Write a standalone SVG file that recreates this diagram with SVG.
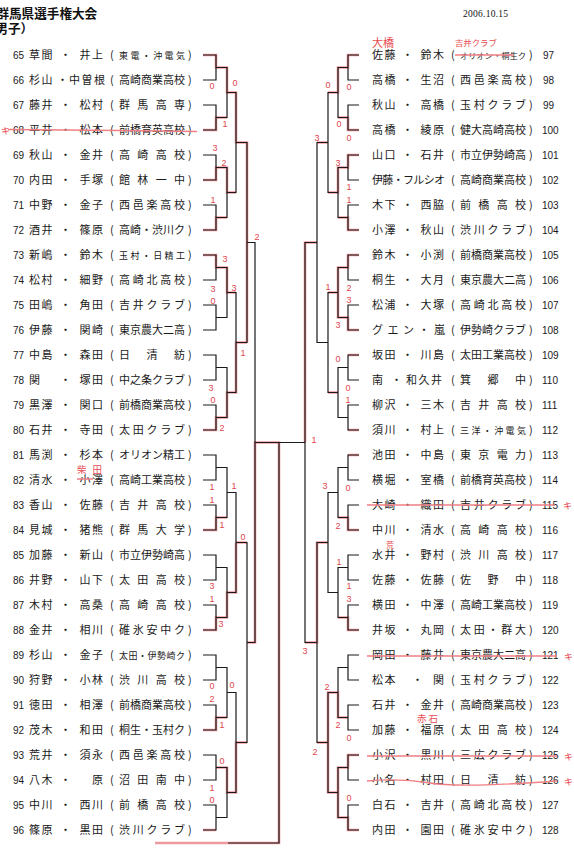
<svg xmlns="http://www.w3.org/2000/svg" width="574" height="859" viewBox="0 0 574 859">
<style>
.bg{fill:#fff}
.nm{font-family:"Noto Sans CJK JP","Noto Sans CJK SC",sans-serif;font-size:11px;fill:#1a1a1a;letter-spacing:1.5px}
.n{font-family:"Liberation Sans",sans-serif;font-size:10px;letter-spacing:0}
.af{font-family:"Noto Sans CJK JP","Noto Sans CJK SC",sans-serif;font-size:11px;fill:#1a1a1a}
.sm{font-size:9px}
.xs{font-size:8px}
.br{fill:none;stroke:#1a1a1a;stroke-width:1.2}
.rd{fill:none;stroke:#e0454d;stroke-width:2.6;stroke-opacity:.55}
.sc{font-family:"Liberation Sans",sans-serif;font-size:9px;fill:#e0454d;text-anchor:middle}
.st{stroke:#f07f84;stroke-width:1.4;fill:none}
.an{font-family:"Noto Sans CJK JP","Noto Sans CJK SC",sans-serif;fill:#e84a50}
.tt{font-family:"Noto Sans CJK JP","Noto Sans CJK SC",sans-serif;font-weight:bold;font-size:12.6px;fill:#111}
</style>
<rect class="bg" width="574" height="859"/>
<g id="title">
<text class="tt" x="-3.6" y="18">群馬県選手権大会</text>
<text class="tt" x="-17.2" y="33">（男子）</text>
<text x="463" y="17" font-family="Liberation Serif,serif" font-size="9.5" fill="#111" textLength="45">2006.10.15</text>
</g>
<g id="connectors">
<path class="rd" d="M203 55H216V67.5H227V92.5H236V142.5H247V342.5M203 130H216V117.5H227M203 180H216V167.5H227V192.5H236M203 230H216V217.5H227M203 255H216V267.5H227V292.5H236M203 430H216V417.5H227V392.5H236V342.5H247M203 530H216V517.5H227M236 542.5H247M203 630H216V617.5H227V592.5H236V542.5M203 730H216V717.5H227M216 767.5H227V792.5H236V742.5H247M203 830H216M247 642.5H255V442.5H279V843H155"/>
<path class="rd" d="M359 55H348V67.5H338V92.5H328M359 130H348V117.5H338M359 155H348V167.5H338V192.5H328M359 230H348V217.5H338M328 142.5H317M317 242.5H305V442.5M359 255H348V267.5H338V292.5H328M359 330H348V317.5H338V292.5M359 355H348M359 430H348M338 392.5H328M359 455H348M359 530H348V517.5H338M328 542.5H317V642.5H305M359 630H348V617.5H338M348 717.5H338V692.5H328V742.5H317M359 755H348V767.5H338V792.5H328V742.5M359 830H348V817.5H338V792.5"/>
<path class="br" d="M203 55H216V80H203M203 105H216V130H203M203 155H216V180H203M203 205H216V230H203M203 255H216V280H203M203 305H216V330H203M203 355H216V380H203M203 405H216V430H203M203 455H216V480H203M203 505H216V530H203M203 555H216V580H203M203 605H216V630H203M203 655H216V680H203M203 705H216V730H203M203 755H216V780H203M203 805H216V830H203
M216 67.5H227V117.5H216M216 167.5H227V217.5H216M216 267.5H227V317.5H216M216 367.5H227V417.5H216M216 467.5H227V517.5H216M216 567.5H227V617.5H216M216 667.5H227V717.5H216M216 767.5H227V817.5H216
M227 92.5H236V192.5H227M227 292.5H236V392.5H227M227 492.5H236V592.5H227M227 692.5H236V792.5H227
M236 142.5H247V342.5H236M236 542.5H247V742.5H236
M247 242.5H255V642.5H247
M255 442.5H305M279 442.5V843H228"/>
<path class="br" d="M359 55H348V80H359M359 105H348V130H359M359 155H348V180H359M359 205H348V230H359M359 255H348V280H359M359 305H348V330H359M359 355H348V380H359M359 405H348V430H359M359 455H348V480H359M359 505H348V530H359M359 555H348V580H359M359 605H348V630H359M359 655H348V680H359M359 705H348V730H359M359 755H348V780H359M359 805H348V830H359
M348 67.5H338V117.5H348M348 167.5H338V217.5H348M348 267.5H338V317.5H348M348 367.5H338V417.5H348M348 467.5H338V517.5H348M348 567.5H338V617.5H348M348 667.5H338V717.5H348M348 767.5H338V817.5H348
M338 92.5H328V192.5H338M338 292.5H328V392.5H338M338 492.5H328V592.5H338M338 692.5H328V792.5H338
M328 142.5H317V342.5H328M328 542.5H317V742.5H328
M317 242.5H305V642.5H317"/>
</g>
<g id="scores">
<text class="sc" x="212" y="89">0</text><text class="sc" x="235" y="86">0</text><text class="sc" x="225" y="127">1</text>
<text class="sc" x="215" y="151">3</text><text class="sc" x="224" y="166">2</text><text class="sc" x="213" y="203">1</text>
<text class="sc" x="225" y="262">3</text><text class="sc" x="213" y="292">3</text><text class="sc" x="213" y="304">0</text><text class="sc" x="234" y="291">3</text>
<text class="sc" x="257" y="240">2</text><text class="sc" x="243" y="356">1</text>
<text class="sc" x="211" y="391">3</text><text class="sc" x="213" y="403">0</text><text class="sc" x="222" y="431">2</text>
<text class="sc" x="212" y="490">1</text><text class="sc" x="234" y="489">1</text><text class="sc" x="212" y="503">1</text><text class="sc" x="222" y="528">1</text>
<text class="sc" x="243" y="540">0</text>
<text class="sc" x="212" y="589">3</text><text class="sc" x="212" y="602">1</text><text class="sc" x="221" y="627">3</text>
<text class="sc" x="212" y="689">0</text><text class="sc" x="212" y="702">2</text><text class="sc" x="232" y="688">0</text><text class="sc" x="222" y="728">1</text>
<text class="sc" x="222" y="764">0</text><text class="sc" x="212" y="791">1</text><text class="sc" x="212" y="803">0</text>
<text class="sc" x="328" y="88">0</text><text class="sc" x="349" y="90">0</text><text class="sc" x="339" y="127">0</text><text class="sc" x="349" y="141">0</text><text class="sc" x="317" y="141">3</text>
<text class="sc" x="338" y="166">3</text><text class="sc" x="349" y="190">1</text><text class="sc" x="349" y="203">1</text>
<text class="sc" x="328" y="290">1</text><text class="sc" x="349" y="291">2</text><text class="sc" x="349" y="303">3</text><text class="sc" x="338" y="328">3</text>
<text class="sc" x="338" y="362">0</text><text class="sc" x="348" y="391">0</text><text class="sc" x="348" y="403">1</text>
<text class="sc" x="314" y="443">1</text>
<text class="sc" x="325" y="489">3</text><text class="sc" x="348" y="491">0</text><text class="sc" x="338" y="529">2</text><text class="sc" x="339" y="565">1</text>
<text class="sc" x="349" y="589">1</text><text class="sc" x="349" y="602">3</text><text class="sc" x="305" y="654">3</text>
<text class="sc" x="327" y="690">2</text><text class="sc" x="338" y="728">2</text><text class="sc" x="349" y="741">0</text><text class="sc" x="315" y="755">2</text><text class="sc" x="349" y="801">0</text>
</g>
<g id="left">
<g id="p65"><text class="nm" y="59"><tspan class="n" x="13">65</tspan><tspan x="29">草間</tspan><tspan x="60">・</tspan><tspan x="79.5">井上</tspan><tspan x="110">(</tspan><tspan x="188">)</tspan></text><text class="af sm" x="119" y="59" textLength="66">東電・沖電気</text></g>
<g id="p66"><text class="nm" y="84"><tspan class="n" x="13">66</tspan><tspan x="29">杉山</tspan><tspan x="57">・</tspan><tspan x="69">中曽根</tspan><tspan x="110">(</tspan><tspan x="188">)</tspan></text><text class="af" x="119" y="84" textLength="66">高崎商業高校</text></g>
<g id="p67"><text class="nm" y="109"><tspan class="n" x="13">67</tspan><tspan x="29">藤井</tspan><tspan x="60">・</tspan><tspan x="79.5">松村</tspan><tspan x="110">(</tspan><tspan x="188">)</tspan></text><text class="af" x="119" y="109" textLength="66">群馬高専</text></g>
<g id="p68"><text class="nm" y="134"><tspan class="n" x="13">68</tspan><tspan x="29">平井</tspan><tspan x="60">・</tspan><tspan x="79.5">松本</tspan><tspan x="110">(</tspan><tspan x="188">)</tspan></text><text class="af" x="119" y="134" textLength="66">前橋育英高校</text></g>
<g id="p69"><text class="nm" y="159"><tspan class="n" x="13">69</tspan><tspan x="29">秋山</tspan><tspan x="60">・</tspan><tspan x="79.5">金井</tspan><tspan x="110">(</tspan><tspan x="188">)</tspan></text><text class="af" x="119" y="159" textLength="66">高崎高校</text></g>
<g id="p70"><text class="nm" y="184"><tspan class="n" x="13">70</tspan><tspan x="29">内田</tspan><tspan x="60">・</tspan><tspan x="79.5">手塚</tspan><tspan x="110">(</tspan><tspan x="188">)</tspan></text><text class="af" x="119" y="184" textLength="66">館林一中</text></g>
<g id="p71"><text class="nm" y="209"><tspan class="n" x="13">71</tspan><tspan x="29">中野</tspan><tspan x="60">・</tspan><tspan x="79.5">金子</tspan><tspan x="110">(</tspan><tspan x="188">)</tspan></text><text class="af" x="119" y="209" textLength="66">西邑楽高校</text></g>
<g id="p72"><text class="nm" y="234"><tspan class="n" x="13">72</tspan><tspan x="29">酒井</tspan><tspan x="60">・</tspan><tspan x="79.5">篠原</tspan><tspan x="110">(</tspan><tspan x="188">)</tspan></text><text class="af" x="119" y="234" textLength="66">高崎・渋川ク</text></g>
<g id="p73"><text class="nm" y="259"><tspan class="n" x="13">73</tspan><tspan x="29">新嶋</tspan><tspan x="60">・</tspan><tspan x="79.5">鈴木</tspan><tspan x="110">(</tspan><tspan x="188">)</tspan></text><text class="af sm" x="119" y="259" textLength="66">玉村・日精工</text></g>
<g id="p74"><text class="nm" y="284"><tspan class="n" x="13">74</tspan><tspan x="29">松村</tspan><tspan x="60">・</tspan><tspan x="79.5">細野</tspan><tspan x="110">(</tspan><tspan x="188">)</tspan></text><text class="af" x="119" y="284" textLength="66">高崎北高校</text></g>
<g id="p75"><text class="nm" y="309"><tspan class="n" x="13">75</tspan><tspan x="29">田嶋</tspan><tspan x="60">・</tspan><tspan x="79.5">角田</tspan><tspan x="110">(</tspan><tspan x="188">)</tspan></text><text class="af" x="119" y="309" textLength="66">吉井クラブ</text></g>
<g id="p76"><text class="nm" y="334"><tspan class="n" x="13">76</tspan><tspan x="29">伊藤</tspan><tspan x="60">・</tspan><tspan x="79.5">関崎</tspan><tspan x="110">(</tspan><tspan x="188">)</tspan></text><text class="af" x="119" y="334" textLength="66">東京農大二高</text></g>
<g id="p77"><text class="nm" y="359"><tspan class="n" x="13">77</tspan><tspan x="29">中島</tspan><tspan x="60">・</tspan><tspan x="79.5">森田</tspan><tspan x="110">(</tspan><tspan x="188">)</tspan></text><text class="af" x="119" y="359" textLength="66">日清紡</text></g>
<g id="p78"><text class="nm" y="384"><tspan class="n" x="13">78</tspan><tspan x="29">関</tspan><tspan x="60">・</tspan><tspan x="79.5">塚田</tspan><tspan x="110">(</tspan><tspan x="188">)</tspan></text><text class="af" x="119" y="384" textLength="66">中之条クラブ</text></g>
<g id="p79"><text class="nm" y="409"><tspan class="n" x="13">79</tspan><tspan x="29">黒澤</tspan><tspan x="60">・</tspan><tspan x="79.5">関口</tspan><tspan x="110">(</tspan><tspan x="188">)</tspan></text><text class="af" x="119" y="409" textLength="66">前橋商業高校</text></g>
<g id="p80"><text class="nm" y="434"><tspan class="n" x="13">80</tspan><tspan x="29">石井</tspan><tspan x="60">・</tspan><tspan x="79.5">寺田</tspan><tspan x="110">(</tspan><tspan x="188">)</tspan></text><text class="af" x="119" y="434" textLength="66">太田クラブ</text></g>
<g id="p81"><text class="nm" y="459"><tspan class="n" x="13">81</tspan><tspan x="29">馬渕</tspan><tspan x="60">・</tspan><tspan x="79.5">杉本</tspan><tspan x="110">(</tspan><tspan x="188">)</tspan></text><text class="af" x="119" y="459" textLength="66">オリオン精工</text></g>
<g id="p82"><text class="nm" y="484"><tspan class="n" x="13">82</tspan><tspan x="29">清水</tspan><tspan x="60">・</tspan><tspan x="79.5">小澤</tspan><tspan x="110">(</tspan><tspan x="188">)</tspan></text><text class="af" x="119" y="484" textLength="66">高崎工業高校</text></g>
<g id="p83"><text class="nm" y="509"><tspan class="n" x="13">83</tspan><tspan x="29">香山</tspan><tspan x="60">・</tspan><tspan x="79.5">佐藤</tspan><tspan x="110">(</tspan><tspan x="188">)</tspan></text><text class="af" x="119" y="509" textLength="66">吉井高校</text></g>
<g id="p84"><text class="nm" y="534"><tspan class="n" x="13">84</tspan><tspan x="29">見城</tspan><tspan x="60">・</tspan><tspan x="79.5">猪熊</tspan><tspan x="110">(</tspan><tspan x="188">)</tspan></text><text class="af" x="119" y="534" textLength="66">群馬大学</text></g>
<g id="p85"><text class="nm" y="559"><tspan class="n" x="13">85</tspan><tspan x="29">加藤</tspan><tspan x="60">・</tspan><tspan x="79.5">新山</tspan><tspan x="110">(</tspan><tspan x="188">)</tspan></text><text class="af" x="119" y="559" textLength="66">市立伊勢崎高</text></g>
<g id="p86"><text class="nm" y="584"><tspan class="n" x="13">86</tspan><tspan x="29">井野</tspan><tspan x="60">・</tspan><tspan x="79.5">山下</tspan><tspan x="110">(</tspan><tspan x="188">)</tspan></text><text class="af" x="119" y="584" textLength="66">太田高校</text></g>
<g id="p87"><text class="nm" y="609"><tspan class="n" x="13">87</tspan><tspan x="29">木村</tspan><tspan x="60">・</tspan><tspan x="79.5">高桑</tspan><tspan x="110">(</tspan><tspan x="188">)</tspan></text><text class="af" x="119" y="609" textLength="66">高崎高校</text></g>
<g id="p88"><text class="nm" y="634"><tspan class="n" x="13">88</tspan><tspan x="29">金井</tspan><tspan x="60">・</tspan><tspan x="79.5">相川</tspan><tspan x="110">(</tspan><tspan x="188">)</tspan></text><text class="af" x="119" y="634" textLength="66">碓氷安中ク</text></g>
<g id="p89"><text class="nm" y="659"><tspan class="n" x="13">89</tspan><tspan x="29">杉山</tspan><tspan x="60">・</tspan><tspan x="79.5">金子</tspan><tspan x="110">(</tspan><tspan x="188">)</tspan></text><text class="af sm" x="119" y="659" textLength="66">太田・伊勢崎ク</text></g>
<g id="p90"><text class="nm" y="684"><tspan class="n" x="13">90</tspan><tspan x="29">狩野</tspan><tspan x="60">・</tspan><tspan x="79.5">小林</tspan><tspan x="110">(</tspan><tspan x="188">)</tspan></text><text class="af" x="119" y="684" textLength="66">渋川高校</text></g>
<g id="p91"><text class="nm" y="709"><tspan class="n" x="13">91</tspan><tspan x="29">徳田</tspan><tspan x="60">・</tspan><tspan x="79.5">相澤</tspan><tspan x="110">(</tspan><tspan x="188">)</tspan></text><text class="af" x="119" y="709" textLength="66">前橋商業高校</text></g>
<g id="p92"><text class="nm" y="734"><tspan class="n" x="13">92</tspan><tspan x="29">茂木</tspan><tspan x="60">・</tspan><tspan x="79.5">和田</tspan><tspan x="110">(</tspan><tspan x="188">)</tspan></text><text class="af" x="119" y="734" textLength="66">桐生・玉村ク</text></g>
<g id="p93"><text class="nm" y="759"><tspan class="n" x="13">93</tspan><tspan x="29">荒井</tspan><tspan x="60">・</tspan><tspan x="79.5">須永</tspan><tspan x="110">(</tspan><tspan x="188">)</tspan></text><text class="af" x="119" y="759" textLength="66">西邑楽高校</text></g>
<g id="p94"><text class="nm" y="784"><tspan class="n" x="13">94</tspan><tspan x="29">八木</tspan><tspan x="60">・</tspan><tspan x="92">原</tspan><tspan x="110">(</tspan><tspan x="188">)</tspan></text><text class="af" x="119" y="784" textLength="66">沼田南中</text></g>
<g id="p95"><text class="nm" y="809"><tspan class="n" x="13">95</tspan><tspan x="29">中川</tspan><tspan x="60">・</tspan><tspan x="79.5">西川</tspan><tspan x="110">(</tspan><tspan x="188">)</tspan></text><text class="af" x="119" y="809" textLength="66">前橋高校</text></g>
<g id="p96"><text class="nm" y="834"><tspan class="n" x="13">96</tspan><tspan x="29">篠原</tspan><tspan x="60">・</tspan><tspan x="79.5">黒田</tspan><tspan x="110">(</tspan><tspan x="188">)</tspan></text><text class="af" x="119" y="834" textLength="66">渋川クラブ</text></g>
</g>
<g id="right">
<g id="p97"><text class="nm" y="59"><tspan x="372">佐藤</tspan><tspan x="402">・</tspan><tspan x="420.5">鈴木</tspan><tspan x="451">(</tspan><tspan x="529">)</tspan><tspan class="n" x="543">97</tspan></text><text class="af xs" x="460" y="59" textLength="66">オリオン・桐生ク</text></g>
<g id="p98"><text class="nm" y="84"><tspan x="372">高橋</tspan><tspan x="402">・</tspan><tspan x="420.5">生沼</tspan><tspan x="451">(</tspan><tspan x="529">)</tspan><tspan class="n" x="543">98</tspan></text><text class="af" x="460" y="84" textLength="66">西邑楽高校</text></g>
<g id="p99"><text class="nm" y="109"><tspan x="372">秋山</tspan><tspan x="402">・</tspan><tspan x="420.5">高橋</tspan><tspan x="451">(</tspan><tspan x="529">)</tspan><tspan class="n" x="543">99</tspan></text><text class="af" x="460" y="109" textLength="66">玉村クラブ</text></g>
<g id="p100"><text class="nm" y="134"><tspan x="372">高橋</tspan><tspan x="402">・</tspan><tspan x="420.5">綾原</tspan><tspan x="451">(</tspan><tspan x="529">)</tspan><tspan class="n" x="542">100</tspan></text><text class="af" x="460" y="134" textLength="66">健大高崎高校</text></g>
<g id="p101"><text class="nm" y="159"><tspan x="372">山口</tspan><tspan x="402">・</tspan><tspan x="420.5">石井</tspan><tspan x="451">(</tspan><tspan x="529">)</tspan><tspan class="n" x="542">101</tspan></text><text class="af" x="460" y="159" textLength="66">市立伊勢崎高</text></g>
<g id="p102"><text class="nm" y="184"><tspan x="451">(</tspan><tspan x="529">)</tspan><tspan class="n" x="542">102</tspan></text><text class="af" x="372" y="184" textLength="73">伊藤・フルシオ</text><text class="af" x="460" y="184" textLength="66">高崎商業高校</text></g>
<g id="p103"><text class="nm" y="209"><tspan x="372">木下</tspan><tspan x="402">・</tspan><tspan x="420.5">西脇</tspan><tspan x="451">(</tspan><tspan x="529">)</tspan><tspan class="n" x="542">103</tspan></text><text class="af" x="460" y="209" textLength="66">前橋高校</text></g>
<g id="p104"><text class="nm" y="234"><tspan x="372">小澤</tspan><tspan x="402">・</tspan><tspan x="420.5">秋山</tspan><tspan x="451">(</tspan><tspan x="529">)</tspan><tspan class="n" x="542">104</tspan></text><text class="af" x="460" y="234" textLength="66">渋川クラブ</text></g>
<g id="p105"><text class="nm" y="259"><tspan x="372">鈴木</tspan><tspan x="402">・</tspan><tspan x="420.5">小渕</tspan><tspan x="451">(</tspan><tspan x="529">)</tspan><tspan class="n" x="542">105</tspan></text><text class="af" x="460" y="259" textLength="66">前橋商業高校</text></g>
<g id="p106"><text class="nm" y="284"><tspan x="372">桐生</tspan><tspan x="402">・</tspan><tspan x="420.5">大月</tspan><tspan x="451">(</tspan><tspan x="529">)</tspan><tspan class="n" x="542">106</tspan></text><text class="af" x="460" y="284" textLength="66">東京農大二高</text></g>
<g id="p107"><text class="nm" y="309"><tspan x="372">松浦</tspan><tspan x="402">・</tspan><tspan x="420.5">大塚</tspan><tspan x="451">(</tspan><tspan x="529">)</tspan><tspan class="n" x="542">107</tspan></text><text class="af" x="460" y="309" textLength="66">高崎北高校</text></g>
<g id="p108"><text class="nm" y="334"><tspan x="451">(</tspan><tspan x="529">)</tspan><tspan class="n" x="542">108</tspan></text><text class="af" x="372" y="334" textLength="73">グエン・嵐</text><text class="af" x="460" y="334" textLength="66">伊勢崎クラブ</text></g>
<g id="p109"><text class="nm" y="359"><tspan x="372">坂田</tspan><tspan x="402">・</tspan><tspan x="420.5">川島</tspan><tspan x="451">(</tspan><tspan x="529">)</tspan><tspan class="n" x="542">109</tspan></text><text class="af" x="460" y="359" textLength="66">太田工業高校</text></g>
<g id="p110"><text class="nm" y="384"><tspan x="372">南</tspan><tspan x="391">・</tspan><tspan x="406">和久井</tspan><tspan x="451">(</tspan><tspan x="529">)</tspan><tspan class="n" x="542">110</tspan></text><text class="af" x="460" y="384" textLength="66">箕郷中</text></g>
<g id="p111"><text class="nm" y="409"><tspan x="372">柳沢</tspan><tspan x="402">・</tspan><tspan x="420.5">三木</tspan><tspan x="451">(</tspan><tspan x="529">)</tspan><tspan class="n" x="542">111</tspan></text><text class="af" x="460" y="409" textLength="66">吉井高校</text></g>
<g id="p112"><text class="nm" y="434"><tspan x="372">須川</tspan><tspan x="402">・</tspan><tspan x="420.5">村上</tspan><tspan x="451">(</tspan><tspan x="529">)</tspan><tspan class="n" x="542">112</tspan></text><text class="af sm" x="460" y="434" textLength="66">三洋・沖電気</text></g>
<g id="p113"><text class="nm" y="459"><tspan x="372">池田</tspan><tspan x="402">・</tspan><tspan x="420.5">中島</tspan><tspan x="451">(</tspan><tspan x="529">)</tspan><tspan class="n" x="542">113</tspan></text><text class="af" x="460" y="459" textLength="66">東京電力</text></g>
<g id="p114"><text class="nm" y="484"><tspan x="372">横堀</tspan><tspan x="402">・</tspan><tspan x="420.5">室橋</tspan><tspan x="451">(</tspan><tspan x="529">)</tspan><tspan class="n" x="542">114</tspan></text><text class="af" x="460" y="484" textLength="66">前橋育英高校</text></g>
<g id="p115"><text class="nm" y="509"><tspan x="372">大崎</tspan><tspan x="402">・</tspan><tspan x="420.5">織田</tspan><tspan x="451">(</tspan><tspan x="529">)</tspan><tspan class="n" x="542">115</tspan></text><text class="af" x="460" y="509" textLength="66">吉井クラブ</text></g>
<g id="p116"><text class="nm" y="534"><tspan x="372">中川</tspan><tspan x="402">・</tspan><tspan x="420.5">清水</tspan><tspan x="451">(</tspan><tspan x="529">)</tspan><tspan class="n" x="542">116</tspan></text><text class="af" x="460" y="534" textLength="66">高崎高校</text></g>
<g id="p117"><text class="nm" y="559"><tspan x="372">水井</tspan><tspan x="402">・</tspan><tspan x="420.5">野村</tspan><tspan x="451">(</tspan><tspan x="529">)</tspan><tspan class="n" x="542">117</tspan></text><text class="af" x="460" y="559" textLength="66">渋川高校</text></g>
<g id="p118"><text class="nm" y="584"><tspan x="372">佐藤</tspan><tspan x="402">・</tspan><tspan x="420.5">佐藤</tspan><tspan x="451">(</tspan><tspan x="529">)</tspan><tspan class="n" x="542">118</tspan></text><text class="af" x="460" y="584" textLength="66">佐野中</text></g>
<g id="p119"><text class="nm" y="609"><tspan x="372">横田</tspan><tspan x="402">・</tspan><tspan x="420.5">中澤</tspan><tspan x="451">(</tspan><tspan x="529">)</tspan><tspan class="n" x="542">119</tspan></text><text class="af" x="460" y="609" textLength="66">高崎工業高校</text></g>
<g id="p120"><text class="nm" y="634"><tspan x="372">井坂</tspan><tspan x="402">・</tspan><tspan x="420.5">丸岡</tspan><tspan x="451">(</tspan><tspan x="529">)</tspan><tspan class="n" x="542">120</tspan></text><text class="af" x="460" y="634" textLength="66">太田・群大</text></g>
<g id="p121"><text class="nm" y="659"><tspan x="372">岡田</tspan><tspan x="402">・</tspan><tspan x="420.5">藤井</tspan><tspan x="451">(</tspan><tspan x="529">)</tspan><tspan class="n" x="542">121</tspan></text><text class="af" x="460" y="659" textLength="66">東京農大二高</text></g>
<g id="p122"><text class="nm" y="684"><tspan x="372">松本</tspan><tspan x="412">・</tspan><tspan x="433">関</tspan><tspan x="451">(</tspan><tspan x="529">)</tspan><tspan class="n" x="542">122</tspan></text><text class="af" x="460" y="684" textLength="66">玉村クラブ</text></g>
<g id="p123"><text class="nm" y="709"><tspan x="372">石井</tspan><tspan x="402">・</tspan><tspan x="420.5">金井</tspan><tspan x="451">(</tspan><tspan x="529">)</tspan><tspan class="n" x="542">123</tspan></text><text class="af" x="460" y="709" textLength="66">高崎商業高校</text></g>
<g id="p124"><text class="nm" y="734"><tspan x="372">加藤</tspan><tspan x="402">・</tspan><tspan x="420.5">福原</tspan><tspan x="451">(</tspan><tspan x="529">)</tspan><tspan class="n" x="542">124</tspan></text><text class="af" x="460" y="734" textLength="66">太田高校</text></g>
<g id="p125"><text class="nm" y="759"><tspan x="372">小沢</tspan><tspan x="402">・</tspan><tspan x="420.5">黒川</tspan><tspan x="451">(</tspan><tspan x="529">)</tspan><tspan class="n" x="542">125</tspan></text><text class="af" x="460" y="759" textLength="66">三広クラブ</text></g>
<g id="p126"><text class="nm" y="784"><tspan x="372">小名</tspan><tspan x="402">・</tspan><tspan x="420.5">村田</tspan><tspan x="451">(</tspan><tspan x="529">)</tspan><tspan class="n" x="542">126</tspan></text><text class="af" x="460" y="784" textLength="66">日清紡</text></g>
<g id="p127"><text class="nm" y="809"><tspan x="372">白石</tspan><tspan x="402">・</tspan><tspan x="420.5">吉井</tspan><tspan x="451">(</tspan><tspan x="529">)</tspan><tspan class="n" x="542">127</tspan></text><text class="af" x="460" y="809" textLength="66">高崎北高校</text></g>
<g id="p128"><text class="nm" y="834"><tspan x="372">内田</tspan><tspan x="402">・</tspan><tspan x="420.5">園田</tspan><tspan x="451">(</tspan><tspan x="529">)</tspan><tspan class="n" x="542">128</tspan></text><text class="af" x="460" y="834" textLength="66">碓氷安中ク</text></g>
</g>
<g id="annotations">
<path class="st" d="M8 129.5L120 130.5L197 131.5M77 479H93M455 55H513M367 505H555M367 656H557M367 756H557M367 781Q400 778 430 783T557 781"/>
<text class="an" x="1" y="134" font-size="9">キ</text>
<text class="an" x="77" y="473" font-size="9.5" textLength="25">柴田</text>
<text class="an" x="372" y="47" font-size="11">大橋</text>
<text class="an" x="455" y="46" font-size="8.4">吉井クラブ</text>
<text class="an" x="386" y="548" font-size="8">荒</text>
<text class="an" x="417" y="722" font-size="9.5" textLength="21">赤石</text>
<text class="an" x="563" y="509" font-size="9">キ</text>
<text class="an" x="564" y="660" font-size="9">キ</text>
<text class="an" x="564" y="760" font-size="9">キ</text>
<text class="an" x="564" y="785" font-size="9">キ</text>
</g>
</svg>
